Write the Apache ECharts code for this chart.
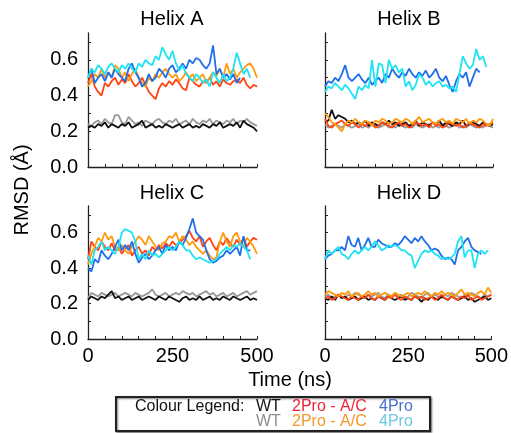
<!DOCTYPE html>
<html>
<head>
<meta charset="utf-8">
<script src="https://cdn.jsdelivr.net/npm/echarts@6/dist/echarts.min.js"></script>
<style>
  html, body { margin: 0; padding: 0; background: #fff; }
  #chartBox { width: 511px; height: 433px; }
</style>
</head>
<body>
<div id="chartBox"></div>
<script>
// time axis (ns)
var times = [0,10,20,30,40,50,60,70,80,90,100,110,120,130,140,150,160,170,180,190,
  200,210,220,230,240,250,260,270,280,290,300,310,320,330,340,350,360,370,380,390,
  400,410,420,430,440,450,460,470,480,490,500];
var xTickValues = [0,50,100,150,200,250,300,350,400,450,500];
var xLabelValues = [0,250,500];
var yTickValues = [0,0.1,0.2,0.3,0.4,0.5,0.6,0.7];
var yLabelValues = [0,0.2,0.4,0.6];
var panelNames = ['Helix A','Helix B','Helix C','Helix D'];

// Helix A
var aWT1 = [0.22,0.23,0.22,0.24,0.23,0.25,0.22,0.24,0.23,0.22,0.24,0.23,0.25,0.22,0.23,0.24,0.26,0.22,0.23,0.24,0.22,0.23,0.22,0.24,0.23,0.22,0.23,0.24,0.22,0.23,0.24,0.22,0.23,0.22,0.24,0.23,0.22,0.24,0.23,0.25,0.22,0.23,0.24,0.23,0.25,0.22,0.26,0.24,0.23,0.22,0.20];
var aWT2 = [0.24,0.23,0.25,0.26,0.24,0.27,0.25,0.24,0.29,0.29,0.25,0.24,0.28,0.26,0.24,0.25,0.23,0.26,0.25,0.24,0.26,0.27,0.25,0.24,0.26,0.25,0.27,0.24,0.25,0.26,0.24,0.27,0.25,0.24,0.26,0.25,0.27,0.24,0.26,0.25,0.24,0.26,0.25,0.27,0.24,0.26,0.25,0.27,0.25,0.24,0.23];
var aRed = [0.47,0.52,0.45,0.42,0.40,0.47,0.45,0.48,0.50,0.46,0.49,0.47,0.52,0.48,0.45,0.47,0.50,0.46,0.42,0.40,0.38,0.44,0.47,0.45,0.48,0.46,0.49,0.47,0.44,0.43,0.50,0.48,0.46,0.45,0.48,0.47,0.50,0.46,0.48,0.45,0.49,0.47,0.46,0.48,0.49,0.47,0.50,0.46,0.44,0.46,0.45];
var aOrange = [0.45,0.48,0.52,0.50,0.55,0.50,0.53,0.50,0.57,0.55,0.50,0.53,0.48,0.52,0.55,0.50,0.47,0.45,0.50,0.48,0.52,0.50,0.53,0.55,0.52,0.50,0.52,0.48,0.50,0.53,0.50,0.52,0.48,0.50,0.52,0.47,0.50,0.53,0.51,0.55,0.50,0.58,0.52,0.55,0.50,0.53,0.55,0.57,0.58,0.55,0.50];
var aBlue = [0.50,0.55,0.47,0.50,0.52,0.48,0.53,0.50,0.55,0.52,0.50,0.48,0.55,0.58,0.53,0.50,0.45,0.47,0.52,0.48,0.50,0.55,0.53,0.50,0.55,0.57,0.53,0.55,0.58,0.55,0.60,0.58,0.61,0.60,0.57,0.55,0.58,0.68,0.52,0.55,0.50,0.52,0.49,0.52,0.47,0.50];
var aCyan = [0.50,0.55,0.53,0.57,0.55,0.52,0.56,0.58,0.55,0.53,0.57,0.55,0.58,0.55,0.53,0.58,0.56,0.60,0.58,0.57,0.62,0.60,0.67,0.63,0.60,0.65,0.58,0.54,0.57,0.52,0.50,0.48,0.52,0.50,0.47,0.49,0.45,0.53,0.50,0.47,0.52,0.48,0.50,0.55,0.64,0.58,0.52,0.55,0.50];

// Helix B
var bWT1 = [0.25,0.26,0.32,0.27,0.29,0.28,0.27,0.25,0.26,0.24,0.25,0.24,0.26,0.23,0.25,0.24,0.23,0.25,0.24,0.26,0.24,0.25,0.23,0.24,0.25,0.23,0.24,0.26,0.23,0.25,0.24,0.23,0.25,0.24,0.26,0.23,0.25,0.24,0.23,0.25,0.24,0.26,0.23,0.24,0.25,0.24,0.23,0.25,0.24,0.23,0.24];
var bWT2 = [0.24,0.22,0.23,0.24,0.23,0.22,0.24,0.23,0.22,0.23,0.24,0.22,0.23,0.22,0.24,0.23,0.22,0.23,0.24,0.22,0.23,0.22,0.24,0.23,0.22,0.23,0.22,0.24,0.23,0.22,0.23,0.24,0.22,0.23,0.22,0.24,0.23,0.22,0.23,0.24,0.22,0.23,0.22,0.24,0.23,0.22,0.23,0.22,0.24,0.23,0.22];
var bRed = [0.27,0.23,0.22,0.24,0.25,0.26,0.24,0.23,0.25,0.24,0.22,0.24,0.23,0.25,0.24,0.22,0.23,0.25,0.24,0.23,0.22,0.24,0.25,0.23,0.24,0.22,0.23,0.25,0.24,0.23,0.24,0.22,0.25,0.23,0.24,0.22,0.23,0.25,0.24,0.23,0.24,0.22,0.23,0.25,0.24,0.23,0.22,0.24,0.23,0.24,0.25];
var bOrange = [0.30,0.28,0.25,0.24,0.22,0.20,0.24,0.26,0.25,0.27,0.25,0.24,0.26,0.25,0.23,0.26,0.25,0.27,0.26,0.24,0.25,0.27,0.26,0.25,0.27,0.26,0.24,0.26,0.28,0.25,0.26,0.27,0.25,0.24,0.26,0.27,0.25,0.26,0.24,0.27,0.26,0.25,0.27,0.24,0.26,0.25,0.27,0.26,0.24,0.23,0.27];
var bBlue = [0.45,0.48,0.47,0.50,0.48,0.52,0.57,0.50,0.48,0.50,0.52,0.49,0.47,0.50,0.46,0.48,0.50,0.47,0.52,0.50,0.55,0.52,0.50,0.53,0.51,0.55,0.52,0.50,0.53,0.51,0.54,0.50,0.52,0.55,0.50,0.48,0.51,0.46,0.42,0.48,0.52,0.50,0.53,0.45,0.50,0.55,0.53];
var bCyan = [0.42,0.45,0.44,0.47,0.45,0.43,0.46,0.44,0.41,0.38,0.45,0.43,0.46,0.44,0.60,0.45,0.58,0.57,0.47,0.60,0.55,0.57,0.53,0.55,0.45,0.48,0.43,0.46,0.52,0.50,0.46,0.48,0.45,0.47,0.48,0.45,0.46,0.44,0.45,0.42,0.52,0.62,0.58,0.55,0.57,0.66,0.60,0.62,0.56];

// Helix C
var cWT1 = [0.22,0.24,0.23,0.22,0.24,0.23,0.25,0.27,0.23,0.24,0.22,0.23,0.24,0.22,0.23,0.24,0.22,0.23,0.24,0.23,0.22,0.24,0.23,0.22,0.24,0.23,0.22,0.21,0.23,0.24,0.22,0.23,0.22,0.24,0.22,0.23,0.24,0.22,0.23,0.22,0.24,0.23,0.22,0.24,0.23,0.22,0.23,0.24,0.22,0.23,0.22];
var cWT2 = [0.23,0.26,0.25,0.24,0.26,0.25,0.24,0.25,0.26,0.24,0.25,0.26,0.25,0.24,0.26,0.25,0.24,0.25,0.26,0.28,0.25,0.24,0.25,0.26,0.24,0.25,0.26,0.25,0.27,0.26,0.25,0.26,0.24,0.25,0.26,0.27,0.25,0.26,0.24,0.25,0.26,0.24,0.25,0.26,0.24,0.25,0.26,0.27,0.25,0.26,0.27];
var cRed = [0.45,0.55,0.52,0.50,0.55,0.52,0.50,0.54,0.50,0.52,0.48,0.51,0.53,0.47,0.50,0.52,0.48,0.50,0.47,0.52,0.50,0.53,0.51,0.54,0.52,0.55,0.53,0.54,0.56,0.58,0.61,0.57,0.55,0.58,0.52,0.55,0.57,0.53,0.50,0.55,0.53,0.57,0.54,0.52,0.56,0.53,0.57,0.52,0.55,0.57,0.56];
var cOrange = [0.42,0.48,0.52,0.57,0.55,0.60,0.56,0.58,0.52,0.50,0.53,0.50,0.48,0.52,0.55,0.58,0.56,0.53,0.58,0.55,0.52,0.50,0.54,0.55,0.58,0.57,0.60,0.55,0.58,0.56,0.53,0.55,0.52,0.50,0.48,0.50,0.47,0.45,0.46,0.55,0.60,0.55,0.52,0.58,0.60,0.55,0.52,0.57,0.55,0.52,0.48];
var cBlue = [0.40,0.38,0.45,0.43,0.50,0.47,0.45,0.48,0.52,0.56,0.50,0.53,0.50,0.55,0.48,0.43,0.46,0.48,0.45,0.47,0.50,0.52,0.48,0.53,0.50,0.52,0.50,0.55,0.53,0.57,0.62,0.68,0.60,0.58,0.56,0.50,0.45,0.43,0.44,0.46,0.47,0.50,0.48,0.50,0.52,0.47,0.58,0.50,0.50];
var cCyan = [0.47,0.42,0.50,0.52,0.55,0.50,0.52,0.50,0.48,0.52,0.60,0.62,0.61,0.60,0.55,0.45,0.48,0.45,0.50,0.47,0.48,0.46,0.48,0.50,0.52,0.50,0.52,0.55,0.53,0.50,0.50,0.47,0.45,0.46,0.45,0.44,0.43,0.44,0.45,0.48,0.50,0.52,0.50,0.53,0.52,0.54,0.52,0.50,0.45];

// Helix D
var dWT1 = [0.23,0.22,0.24,0.22,0.25,0.23,0.24,0.22,0.23,0.24,0.22,0.23,0.24,0.22,0.23,0.22,0.24,0.23,0.22,0.24,0.23,0.22,0.23,0.24,0.22,0.23,0.22,0.24,0.23,0.21,0.23,0.22,0.24,0.23,0.22,0.24,0.23,0.22,0.24,0.23,0.22,0.23,0.24,0.22,0.23,0.21,0.22,0.23,0.24,0.22,0.23];
var dWT2 = [0.24,0.25,0.23,0.24,0.25,0.24,0.23,0.25,0.24,0.26,0.25,0.24,0.23,0.25,0.24,0.25,0.26,0.24,0.23,0.25,0.24,0.26,0.24,0.25,0.23,0.24,0.26,0.25,0.24,0.23,0.25,0.26,0.24,0.25,0.24,0.23,0.25,0.24,0.26,0.25,0.24,0.23,0.25,0.24,0.26,0.25,0.24,0.23,0.25,0.24,0.25];
var dRed = [0.23,0.24,0.22,0.23,0.25,0.24,0.23,0.22,0.24,0.23,0.22,0.24,0.23,0.25,0.23,0.22,0.24,0.23,0.22,0.24,0.23,0.25,0.23,0.22,0.24,0.23,0.22,0.24,0.23,0.24,0.22,0.23,0.24,0.22,0.23,0.25,0.23,0.22,0.24,0.23,0.22,0.24,0.23,0.25,0.22,0.23,0.24,0.22,0.23,0.24,0.25];
var dOrange = [0.25,0.27,0.26,0.25,0.24,0.26,0.25,0.27,0.24,0.25,0.26,0.24,0.25,0.27,0.25,0.26,0.24,0.25,0.26,0.25,0.24,0.26,0.25,0.24,0.25,0.26,0.24,0.25,0.26,0.25,0.27,0.25,0.24,0.26,0.25,0.27,0.25,0.26,0.25,0.24,0.26,0.28,0.25,0.26,0.25,0.24,0.26,0.27,0.25,0.29,0.26];
var dBlue = [0.45,0.47,0.48,0.50,0.50,0.52,0.50,0.58,0.53,0.52,0.57,0.50,0.53,0.57,0.52,0.52,0.56,0.54,0.53,0.52,0.52,0.54,0.53,0.55,0.58,0.56,0.54,0.57,0.55,0.58,0.55,0.53,0.50,0.51,0.50,0.47,0.45,0.46,0.45,0.42,0.50,0.52,0.55,0.57,0.52,0.50,0.49,0.48];
var dCyan = [0.45,0.50,0.48,0.50,0.52,0.48,0.47,0.45,0.48,0.50,0.48,0.50,0.52,0.50,0.52,0.55,0.53,0.50,0.51,0.53,0.52,0.53,0.52,0.50,0.50,0.48,0.47,0.40,0.44,0.48,0.50,0.49,0.50,0.48,0.47,0.45,0.46,0.45,0.46,0.48,0.55,0.58,0.46,0.50,0.50,0.40,0.48,0.50,0.48,0.50];

var panelData = [
  [aWT2, aWT1, aRed, aOrange, aBlue, aCyan],
  [bWT2, bWT1, bRed, bOrange, bBlue, bCyan],
  [cWT2, cWT1, cRed, cOrange, cBlue, cCyan],
  [dWT2, dWT1, dRed, dOrange, dBlue, dCyan]
];
var lineColors = ['#9a9a9a', '#111111', '#ff4514', '#ff9a0e', '#1f6fea', '#1ee3f2'];
var font = "'Liberation Sans', Arial, sans-serif";

var grids = [
  {left: 88, top: 33, width: 169, height: 134},
  {left: 325, top: 33, width: 168, height: 134},
  {left: 88, top: 206, width: 169, height: 133},
  {left: 325, top: 206, width: 168, height: 133}
];

function zip(vals) {
  return vals.map(function (v, i) { return [times[i], v]; });
}

var xAxes = [], yAxes = [], series = [];
grids.forEach(function (g, i) {
  xAxes.push({
    type: 'value', gridIndex: i, min: 0, max: 500,
    axisLine: {lineStyle: {color: '#222', width: 1.3}},
    axisTick: {inside: true, length: 3, customValues: xTickValues, lineStyle: {color: '#222'}},
    axisLabel: {show: i >= 2, customValues: xLabelValues, color: '#000', fontSize: 20, fontFamily: font, margin: 7},
    splitLine: {show: false}
  });
  yAxes.push({
    type: 'value', gridIndex: i, min: 0, max: 0.75,
    axisLine: {show: true, lineStyle: {color: '#222', width: 1.3}},
    axisTick: {show: true, inside: true, length: 3, customValues: yTickValues, lineStyle: {color: '#222'}},
    axisLabel: {show: i % 2 === 0, customValues: yLabelValues, color: '#000', fontSize: 20, fontFamily: font, margin: 10,
      formatter: function (v) { return v.toFixed(1); }},
    splitLine: {show: false}
  });
  panelData[i].forEach(function (vals, k) {
    series.push({
      type: 'line', xAxisIndex: i, yAxisIndex: i,
      data: zip(vals), showSymbol: false, animation: false,
      lineStyle: {color: lineColors[k], width: 1.8},
      itemStyle: {color: lineColors[k]}
    });
  });
});

var titlePos = [[172, 19], [409, 19], [172, 193], [409, 193]];
var graphics = panelNames.map(function (n, i) {
  return {type: 'text', x: titlePos[i][0], y: titlePos[i][1],
    style: {text: n, fill: '#000', font: '20px ' + font, textAlign: 'center', textVerticalAlign: 'middle'}};
});
graphics.push({type: 'text', x: 22, y: 190, rotation: Math.PI / 2,
  style: {text: 'RMSD (Å)', fill: '#000', font: '20px ' + font, textAlign: 'center', textVerticalAlign: 'middle'}});
graphics.push({type: 'text', x: 290, y: 380,
  style: {text: 'Time (ns)', fill: '#000', font: '20px ' + font, textAlign: 'center', textVerticalAlign: 'middle'}});

// legend box
graphics.push({type: 'rect', shape: {x: 116, y: 397, width: 314, height: 34},
  style: {fill: '#fff', stroke: '#222', lineWidth: 2, shadowBlur: 2, shadowColor: 'rgba(0,0,0,0.5)', shadowOffsetX: 1, shadowOffsetY: 1}});
var legendRows = [
  ['WT', '#111111', 256, 407], ['2Pro - A/C', '#e8273a', 292, 407], ['4Pro', '#4a72c8', 379, 407],
  ['WT', '#8f8f8f', 256, 422], ['2Pro - A/C', '#f7962b', 292, 422], ['4Pro', '#6cc9e2', 379, 422]
];
graphics.push({type: 'text', x: 135, y: 407,
  style: {text: 'Colour Legend:', fill: '#111', font: '16px ' + font, textVerticalAlign: 'middle'}});
legendRows.forEach(function (r) {
  graphics.push({type: 'text', x: r[2], y: r[3],
    style: {text: r[0], fill: r[1], font: '16px ' + font, textVerticalAlign: 'middle'}});
});

var option = {
  backgroundColor: '#fff',
  animation: false,
  grid: grids,
  xAxis: xAxes,
  yAxis: yAxes,
  series: series,
  graphic: graphics
};

var myChart = echarts.init(document.getElementById('chartBox'));
myChart.setOption(option);
</script>
</body>
</html>
